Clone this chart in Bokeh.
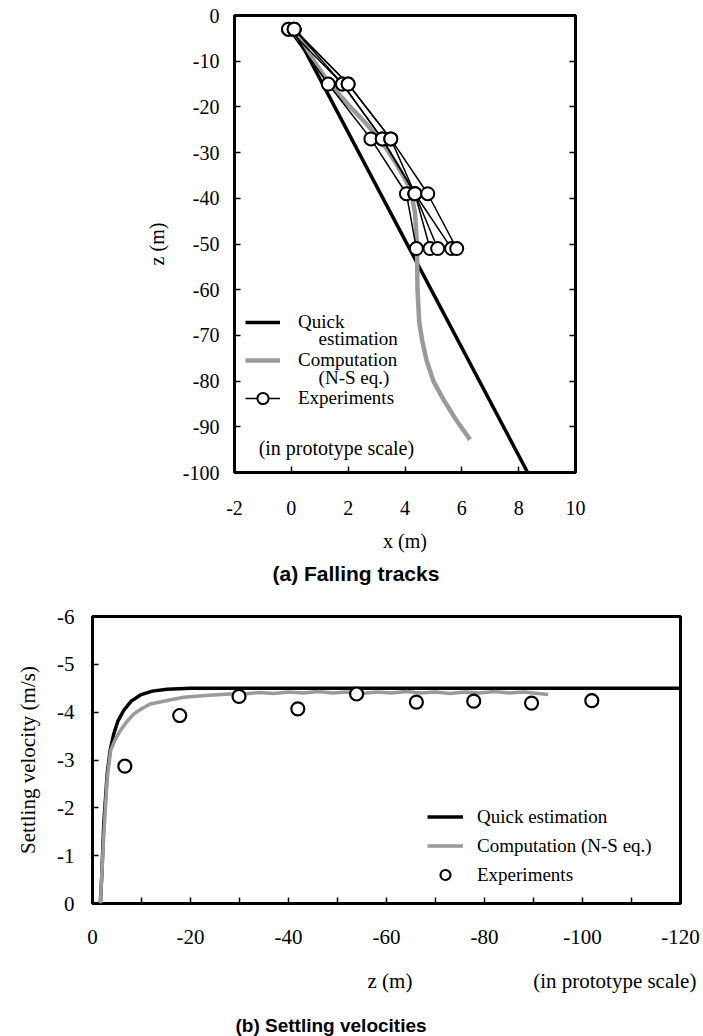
from bokeh.plotting import figure
from bokeh.models import Range1d, FixedTicker, LinearAxis, Legend, LegendItem, Label, Title
from bokeh.layouts import column
from bokeh.embed import file_html
from bokeh.resources import INLINE

# ---------------- (a) Falling tracks ----------------
quick_a_x = [0.0, 8.4]
quick_a_z = [-2.0, -101.0]

comp_a_x = [0.0, 0.35, 0.8, 1.34, 2.0, 2.64, 3.23, 3.7, 4.17, 4.35, 4.42, 4.44, 4.5, 4.6, 4.76, 5.0, 5.35, 5.8, 6.29]
comp_a_z = [-1.5, -5.0, -10.0, -14.9, -19.5, -23.7, -28.0, -32.5, -37.6, -43.0, -50.0, -60.0, -67.0, -71.0, -75.5, -80.0, -84.0, -88.5, -92.8]

exp_a_z = [-3, -15, -27, -39, -51]
exp_a_track1 = [-0.1, 1.3, 2.8, 4.05, 4.4]
exp_a_track2 = [-0.1, 1.8, 3.2, 4.35, 4.88]
exp_a_track3 = [0.1, 1.8, 3.2, 4.35, 5.15]
exp_a_track4 = [0.1, 2.0, 3.5, 4.35, 5.64]
exp_a_track5 = [0.1, 2.0, 3.5, 4.8, 5.82]

x_ticks_a = [-2, 0, 2, 4, 6, 8, 10]
x_tick_labels_a = ["-2", "0", "2", "4", "6", "8", "10"]
z_ticks_a = [0, -10, -20, -30, -40, -50, -60, -70, -80, -90, -100]
z_tick_labels_a = ["0", "-10", "-20", "-30", "-40", "-50", "-60", "-70", "-80", "-90", "-100"]

# ---------------- (b) Settling velocities ----------------
quick_b_z = [-1.6, -1.9, -2.3, -3.0, -3.6, -4.35, -5.2, -6.4, -7.9, -9.8, -12.2, -15.2, -20.0, -121.0]
quick_b_v = [0.0, -0.6, -1.67, -2.71, -3.2, -3.55, -3.82, -4.04, -4.23, -4.36, -4.44, -4.48, -4.5, -4.5]

comp_b_z = [-1.6, -1.9, -2.4, -3.0, -3.7, -4.6, -5.7, -7.0, -8.4, -10.0, -11.8, -15.0, -18.6, -23.0, -28.0,
            -31, -34, -37, -40, -43, -46, -49, -52, -55, -58, -61, -64, -67, -70, -73, -76, -79, -82, -85, -88, -91, -93]
comp_b_v = [0.0, -0.6, -1.6, -2.6, -3.2, -3.42, -3.62, -3.8, -3.96, -4.07, -4.17, -4.24, -4.31, -4.35, -4.38,
            -4.38, -4.41, -4.39, -4.42, -4.40, -4.43, -4.40, -4.42, -4.39, -4.42, -4.40, -4.43, -4.40, -4.42,
            -4.39, -4.42, -4.40, -4.43, -4.40, -4.42, -4.39, -4.37]

exp_b_z = [-6.6, -17.8, -29.9, -41.9, -53.9, -66.1, -77.8, -89.6, -101.9]
exp_b_v = [-2.87, -3.93, -4.33, -4.07, -4.38, -4.21, -4.23, -4.19, -4.24]

z_ticks_b = [0, -20, -40, -60, -80, -100, -120]
z_minor_ticks_b = [-10, -30, -50, -70, -90, -110]
z_tick_labels_b = ["0", "-20", "-40", "-60", "-80", "-100", "-120"]
v_ticks_b = [0, -1, -2, -3, -4, -5, -6]
v_tick_labels_b = ["0", "-1", "-2", "-3", "-4", "-5", "-6"]

SERIF = "Liberation Serif"
GRAY = "#9a9a9a"


def style_axis(ax, ticks, labels, minor=None, fs="20px"):
    ax.ticker = FixedTicker(ticks=ticks, minor_ticks=minor or [])
    ax.major_label_overrides = {t: l for t, l in zip(ticks, labels)}
    ax.axis_line_color = None
    ax.major_tick_in = 6
    ax.major_tick_out = 0
    ax.major_tick_line_width = 1.5
    ax.minor_tick_in = 6 if minor else 0
    ax.minor_tick_out = 0
    ax.minor_tick_line_width = 1.5
    ax.major_label_text_font = SERIF
    ax.major_label_text_font_size = fs
    ax.major_label_text_color = "black"
    ax.axis_label_text_font = SERIF
    ax.axis_label_text_font_style = "normal"
    ax.axis_label_text_color = "black"


# ================= figure (a) =================
p1 = figure(width=703, height=590, x_range=Range1d(-2, 10), y_range=Range1d(-100, 0),
            output_backend="svg", toolbar_location=None, frame_align=False,
            min_border_left=234, min_border_right=128, min_border_top=15, min_border_bottom=118)
p1.grid.visible = False
p1.outline_line_color = "black"
p1.outline_line_width = 3

style_axis(p1.xaxis[0], x_ticks_a, x_tick_labels_a)
p1.xaxis[0].axis_label = "x (m)"
p1.xaxis[0].axis_label_text_font_size = "20px"
p1.xaxis[0].major_label_standoff = 28
p1.xaxis[0].axis_label_standoff = 12

style_axis(p1.yaxis[0], z_ticks_a, z_tick_labels_a)
p1.yaxis[0].axis_label = "z (m)"
p1.yaxis[0].axis_label_text_font_size = "20px"
p1.yaxis[0].major_label_standoff = 15
p1.yaxis[0].axis_label_standoff = 12

ra = LinearAxis()
style_axis(ra, z_ticks_a, z_tick_labels_a)
ra.major_label_text_color = None
p1.add_layout(ra, "right")

r_quick_a = p1.line(quick_a_x, quick_a_z, line_color="black", line_width=3.5)
r_comp_a = p1.line(comp_a_x, comp_a_z, line_color=GRAY, line_width=4.5)
exp_lines = []
exp_pts = []
for tr in [exp_a_track1, exp_a_track2, exp_a_track3, exp_a_track4, exp_a_track5]:
    exp_lines.append(p1.line(tr, exp_a_z, line_color="black", line_width=1.5))
for tr in [exp_a_track1, exp_a_track2, exp_a_track3, exp_a_track4, exp_a_track5]:
    exp_pts.append(p1.scatter(tr, exp_a_z, marker="circle", size=13, fill_color="white",
                              line_color="black", line_width=2))

leg1 = Legend(items=[LegendItem(label="Quick", renderers=[r_quick_a]),
                     LegendItem(label="Computation", renderers=[r_comp_a]),
                     LegendItem(label="Experiments", renderers=[exp_lines[0], exp_pts[0]])],
              location=(11, 60), orientation="vertical", background_fill_alpha=0,
              border_line_color=None, padding=0, margin=0, spacing=10,
              glyph_width=35, glyph_height=28, label_height=28, label_standoff=18,
              label_text_font=SERIF, label_text_font_size="19px", label_text_color="black")
p1.add_layout(leg1)

for txt, xx, yy in [("estimation", 0.96, -70.7), ("(N-S eq.)", 0.96, -79.2)]:
    p1.add_layout(Label(x=xx, y=yy, text=txt, text_align="left", text_baseline="middle",
                        text_font=SERIF, text_font_size="19px", text_color="black"))
p1.add_layout(Label(x=-1.15, y=-94.7, text="(in prototype scale)", text_align="left",
                    text_baseline="middle", text_font=SERIF, text_font_size="20px", text_color="black"))

p1.add_layout(Title(text="(a) Falling tracks", align="left", offset=38, standoff=10,
                    text_font="Liberation Sans", text_font_style="bold", text_font_size="21px",
                    text_color="black"), "below")

# ================= figure (b) =================
p2 = figure(width=703, height=446, x_range=Range1d(0, -120), y_range=Range1d(0, -6),
            output_backend="svg", toolbar_location=None, frame_align=False,
            min_border_left=92, min_border_right=23, min_border_top=26, min_border_bottom=132)
p2.grid.visible = False
p2.outline_line_color = "black"
p2.outline_line_width = 3

style_axis(p2.xaxis[0], z_ticks_b, z_tick_labels_b, z_minor_ticks_b, fs="21px")
p2.xaxis[0].major_label_standoff = 26

style_axis(p2.yaxis[0], v_ticks_b, v_tick_labels_b, fs="21px")
p2.yaxis[0].axis_label = "Settling velocity (m/s)"
p2.yaxis[0].axis_label_text_font_size = "21px"
p2.yaxis[0].major_label_standoff = 18
p2.yaxis[0].axis_label_standoff = 14

r_quick_b = p2.line(quick_b_z, quick_b_v, line_color="black", line_width=3.5)
r_comp_b = p2.line(comp_b_z, comp_b_v, line_color=GRAY, line_width=3.5)
r_exp_b = p2.scatter(exp_b_z, exp_b_v, marker="circle", size=13, fill_color="white",
                     line_color="black", line_width=2.2)

leg2 = Legend(items=[LegendItem(label="Quick estimation", renderers=[r_quick_b]),
                     LegendItem(label="Computation (N-S eq.)", renderers=[r_comp_b]),
                     LegendItem(label="Experiments", renderers=[r_exp_b])],
              location=(335, 16), orientation="vertical", background_fill_alpha=0,
              border_line_color=None, padding=0, margin=0, spacing=4,
              glyph_width=36, glyph_height=25, label_height=25, label_standoff=14,
              label_text_font=SERIF, label_text_font_size="19px", label_text_color="black")
p2.add_layout(leg2)

# x-axis title row: "z (m)" and the scale note on one line
p2.add_layout(Title(text="z (m)" + "\u00a0" * 23 + "(in prototype scale)", align="left", offset=275,
                    standoff=40, text_font=SERIF, text_font_style="normal", text_font_size="21px",
                    text_color="black"), "below")

p2.add_layout(Title(text="(b) Settling velocities", align="left", offset=143, standoff=1,
                    text_font="Liberation Sans", text_font_style="bold", text_font_size="19px",
                    text_color="black"), "below")

layout = column(p1, p2)
open("out.html", "w").write(file_html(layout, INLINE))
